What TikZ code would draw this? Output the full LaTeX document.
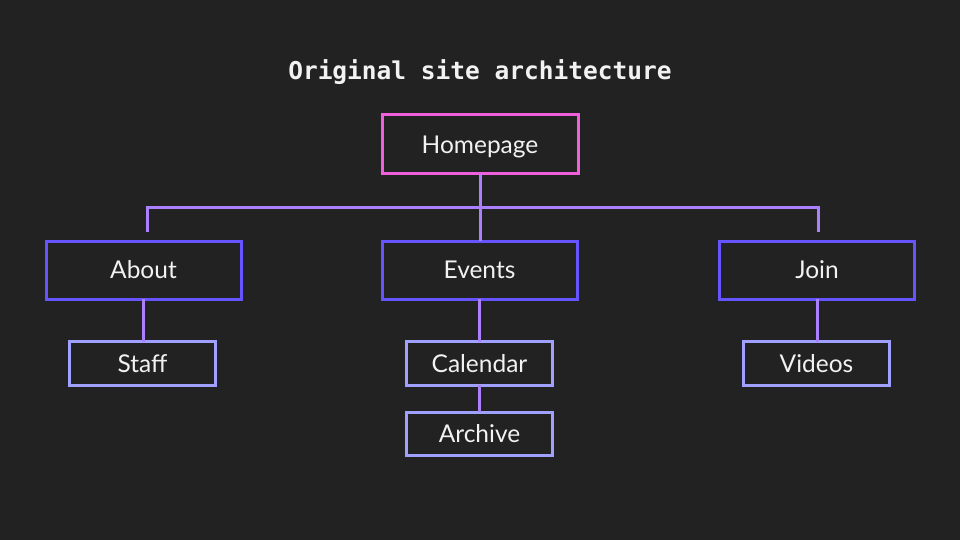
\documentclass[tikz,border=0pt]{standalone}
\usepackage{fontspec}
\setmainfont{Lato}
\newfontfamily\titlefont{DejaVu Sans Mono}
\definecolor{bg}{HTML}{222222}
\definecolor{pinkc}{HTML}{F060DC}
\definecolor{bluec}{HTML}{6655FF}
\definecolor{lavc}{HTML}{A0A0FF}
\definecolor{linec}{HTML}{AA80FF}
\definecolor{txt}{HTML}{F2F2F2}
\begin{document}
\begin{tikzpicture}[x=1pt,y=-1pt,
  box/.style={draw, line width=3pt, text=txt, font=\fontsize{24.5}{28}\selectfont, inner sep=0pt, outer sep=0pt, anchor=center, text height=17.6pt, text depth=0pt},
  top/.style={box, draw=pinkc, minimum width=196pt, minimum height=59pt},
  mid/.style={box, draw=bluec, minimum width=195pt, minimum height=58pt},
  low/.style={box, draw=lavc, minimum width=146.5pt, minimum height=43.5pt},
  conn/.style={draw=linec, line width=3pt}]
\fill[bg] (0,0) rectangle (960,540);
\useasboundingbox (0,0) rectangle (960,540);
\node[text=txt, font=\titlefont\bfseries\fontsize{24.5}{28}\selectfont] (title) at (480,72.5) {Original site architecture};
\node[top] (home) at (480,144.5) {Homepage};
\node[mid] (about) at (143.5,270) {About};
\node[mid] (events) at (479.5,270) {Events};
\node[mid] (join) at (817,270) {Join};
\node[low] (staff) at (142.5,363.5) {Staff};
\node[low] (cal) at (479.5,363.5) {Calendar};
\node[low] (arch) at (479.5,434) {Archive};
\node[low] (vid) at (816.5,363.5) {Videos};
\coordinate (lt) at (147,232);
\coordinate (rt) at (818,232);
\draw[conn] (home.south) -- (home.south |- events.north);
\draw[conn] (lt) -- (147,207) -- (818,207) -- (rt);
\draw[conn] (about.south) -- (about.south |- staff.north);
\draw[conn] (events.south) -- (cal.north);
\draw[conn] (cal.south) -- (arch.north);
\draw[conn] (join.south) -- (join.south |- vid.north);
\end{tikzpicture}
\end{document}
